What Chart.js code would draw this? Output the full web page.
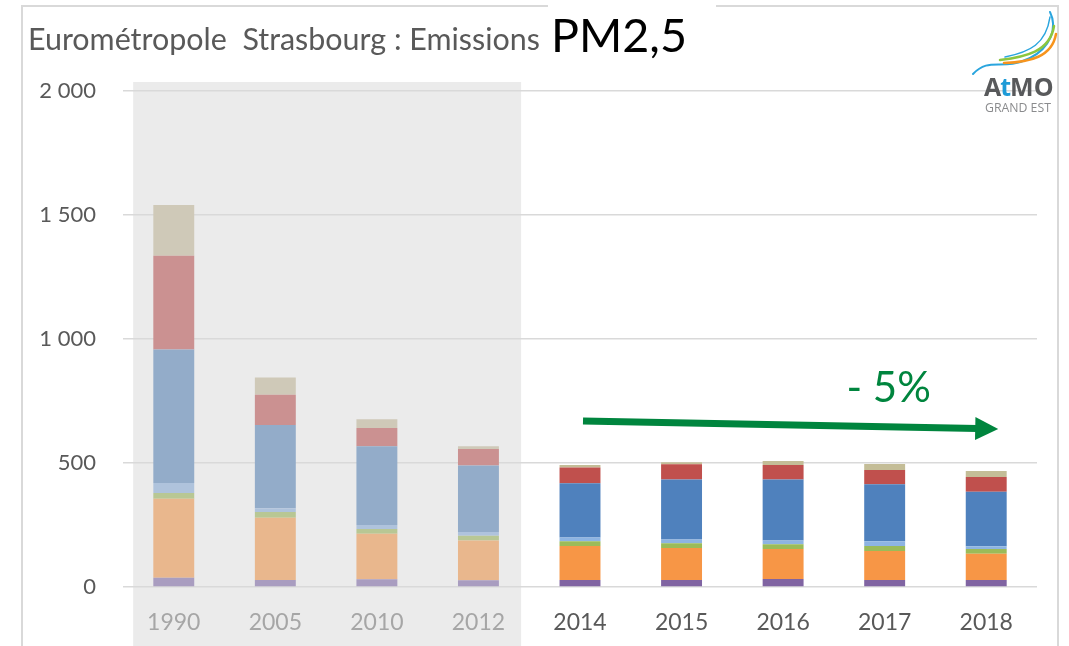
<!DOCTYPE html>
<html>
<head>
<meta charset="utf-8">
<script src="https://cdn.jsdelivr.net/npm/chart.js@4.4.0/dist/chart.umd.min.js"></script>
<style>
  html, body { margin: 0; padding: 0; background: #fff; }
  #wrap { width: 1069px; height: 646px; }
</style>
</head>
<body>
<div id="wrap"><canvas id="pmChart" width="1069" height="646"></canvas></div>
<script>
// =============================================
// DATA (t/an)
// =============================================
const years = ['1990', '2005', '2010', '2012', '2014', '2015', '2016', '2017', '2018'];

const energie     = [37, 28, 31, 27, 28, 28, 32, 28, 28];
const industrie   = [319, 251, 184, 160, 137, 129, 121, 117, 106];
const dechets     = [23, 23, 19, 20, 19, 19, 19, 20, 19];
const tertiaire   = [40, 16, 16, 15, 16, 16, 16, 19, 11];
const residentiel = [539, 335, 318, 268, 218, 241, 245, 230, 220];
const routier     = [378, 122, 73, 66, 64, 62, 59, 58, 60];
const autres      = [204, 70, 35, 12, 10, 8, 16, 24, 24];

const yTicks = [0, 500, 1000, 1500, 2000];

// first 4 years are drawn faded (historical period)
const historicCount = 4;

const series = [
    { label: 'Branche énergie',   data: energie,     color: '#8064A2', faded: '#A99DC0' },
    { label: 'Industrie',         data: industrie,   color: '#F79646', faded: '#E9B78D' },
    { label: 'Déchets',           data: dechets,     color: '#9BBB59', faded: '#B8C794' },
    { label: 'Tertiaire',         data: tertiaire,   color: '#8DB4E2', faded: '#AFC3DC' },
    { label: 'Résidentiel',       data: residentiel, color: '#4F81BD', faded: '#93ACC9' },
    { label: 'Transport routier', data: routier,     color: '#C0504D', faded: '#CB9191' },
    { label: 'Autres transports', data: autres,      color: '#C4BD97', faded: '#CFC9B8' }
];

// =============================================
// HELPERS
// =============================================

// draw text so that it spans a given width (Calibri is not available)
function fitText(ctx, text, x, y, width, family, weight = '') {
    ctx.font = `${weight} 20px ${family}`;
    const size = 20 * width / ctx.measureText(text).width;
    ctx.font = `${weight} ${size}px ${family}`;
    ctx.fillText(text, x, y);
}

function drawLogo(ctx) {
    ctx.save();
    ctx.lineCap = 'round';
    const swoosh = (color, w, pts) => {
        ctx.strokeStyle = color;
        ctx.lineWidth = w;
        ctx.beginPath();
        ctx.moveTo(pts[0], pts[1]);
        ctx.bezierCurveTo(pts[2], pts[3], pts[4], pts[5], pts[6], pts[7]);
        ctx.stroke();
    };
    swoosh('#2AA5DE', 2, [973, 74, 990, 56, 1002, 72, 1030, 58]);
    swoosh('#2AA5DE', 2, [1030, 58, 1050, 48, 1058, 28, 1050, 12]);
    swoosh('#8CC63F', 2.5, [1000, 60, 1025, 57, 1050, 52, 1054, 26]);
    swoosh('#F7941D', 2.5, [1004, 63, 1030, 62, 1052, 57, 1056, 34]);
    swoosh('#2AA5DE', 1.5, [1005, 57, 1030, 52, 1046, 44, 1050, 17]);

    ctx.textBaseline = 'alphabetic';
    ctx.textAlign = 'left';
    ctx.font = 'bold 25px "Open Sans"';
    ctx.fillStyle = '#58595B';
    let px = 984;
    ctx.fillText('A', px, 96); px += ctx.measureText('A').width - 1;
    ctx.fillStyle = '#1E9BD7';
    ctx.fillText('t', px, 96); px += ctx.measureText('t').width - 1;
    ctx.fillStyle = '#58595B';
    ctx.fillText('MO', px, 96);
    ctx.fillStyle = '#8A8B8D';
    fitText(ctx, 'GRAND EST', 985, 112, 66, '"Open Sans"');
    ctx.restore();
}

// =============================================
// DECORATION PLUGIN
// =============================================
const decorPlugin = {
    id: 'decor',
    beforeDraw(chart) {
        const { ctx, scales } = chart;
        const x = scales.x;
        const step = x.getPixelForValue(1) - x.getPixelForValue(0);
        const left = x.getPixelForValue(0) - step * 0.4;
        const right = x.getPixelForValue(historicCount - 1) + step * 0.42;
        ctx.save();
        ctx.fillStyle = '#EBEBEB';
        ctx.fillRect(left, 82, right - left, chart.height - 82);
        ctx.restore();
    },
    afterDraw(chart) {
        const { ctx, scales } = chart;
        const x = scales.x, y = scales.y;
        ctx.save();

        // frame
        ctx.strokeStyle = '#D9D9D9';
        ctx.lineWidth = 2;
        ctx.beginPath();
        ctx.moveTo(22, chart.height);
        ctx.lineTo(22, 6);
        ctx.lineTo(548, 6);
        ctx.moveTo(716, 6);
        ctx.lineTo(1058, 6);
        ctx.lineTo(1058, chart.height);
        ctx.stroke();

        // title
        ctx.textBaseline = 'alphabetic';
        ctx.textAlign = 'left';
        ctx.fillStyle = '#595959';
        fitText(ctx, 'Eurométropole  Strasbourg : Emissions', 28, 50, 512, 'Lato');
        ctx.fillStyle = '#000';
        fitText(ctx, 'PM2,5', 551, 52, 136, 'Lato');

        // trend arrow
        const x0 = x.getPixelForValue(4) + 3;
        const x1 = x.getPixelForValue(8) + 12;
        const y0 = y.getPixelForValue(669);
        const y1 = y.getPixelForValue(637);
        const ang = Math.atan2(y1 - y0, x1 - x0);
        const headLen = 23, headHalf = 11.5;
        const bx = x1 - headLen * Math.cos(ang), by = y1 - headLen * Math.sin(ang);
        ctx.strokeStyle = '#00853E';
        ctx.fillStyle = '#00853E';
        ctx.lineWidth = 7;
        ctx.beginPath();
        ctx.moveTo(x0, y0);
        ctx.lineTo(bx + 2 * Math.cos(ang), by + 2 * Math.sin(ang));
        ctx.stroke();
        ctx.beginPath();
        ctx.moveTo(x1, y1);
        ctx.lineTo(bx - headHalf * Math.sin(ang), by + headHalf * Math.cos(ang));
        ctx.lineTo(bx + headHalf * Math.sin(ang), by - headHalf * Math.cos(ang));
        ctx.closePath();
        ctx.fill();

        ctx.font = '42px Lato';
        ctx.textAlign = 'center';
        ctx.fillText('- 5%', x.getPixelForValue(7) + 4, y.getPixelForValue(746));

        drawLogo(ctx);
        ctx.restore();
    }
};

// =============================================
// CHART
// =============================================
const datasets = series.map(s => ({
    label: s.label,
    data: s.data,
    backgroundColor: years.map((yr, i) => i < historicCount ? s.faded : s.color),
    borderWidth: 0,
    barPercentage: 0.403,
    categoryPercentage: 1
}));

const chart = new Chart(document.getElementById('pmChart').getContext('2d'), {
    type: 'bar',
    data: { labels: years, datasets },
    options: {
        responsive: false,
        animation: false,
        layout: { padding: { left: 0, right: 32, top: 91, bottom: 0 } },
        plugins: {
            legend: { display: false },
            tooltip: { enabled: false }
        },
        scales: {
            x: {
                stacked: true,
                grid: { display: false },
                border: { display: false },
                ticks: {
                    color: (c) => c.index < historicCount ? '#A6A6A6' : '#595959',
                    font: { family: 'Lato', size: 23 },
                    padding: 14,
                    maxRotation: 0
                },
                afterFit: (scale) => { scale.height = 59; }
            },
            y: {
                stacked: true,
                min: 0,
                max: 2000,
                afterBuildTicks: (scale) => { scale.ticks = yTicks.map(v => ({ value: v })); },
                grid: { color: '#D9D9D9', lineWidth: 1.5, drawTicks: false },
                border: { display: false },
                ticks: {
                    color: '#595959',
                    font: { family: 'Lato', size: 22 },
                    padding: 27,
                    callback: (v) => String(v).replace(/\B(?=(\d{3})+(?!\d))/g, ' ')
                },
                afterFit: (scale) => { scale.width = 123; }
            }
        }
    },
    plugins: [decorPlugin]
});
</script>
</body>
</html>
